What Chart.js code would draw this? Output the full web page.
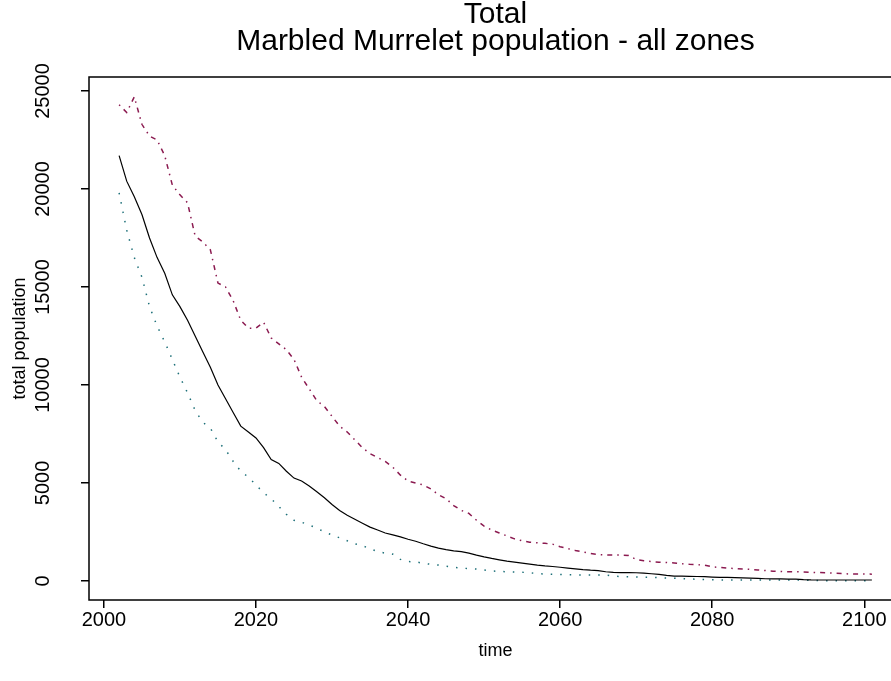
<!DOCTYPE html>
<html lang="en">
<head>
    <meta charset="UTF-8">
    <title>Marbled Murrelet population - all zones</title>
    <script src="https://cdn.jsdelivr.net/npm/chart.js"></script>
    <style>
        body {
            margin: 0;
            padding: 0;
            background-color: #ffffff;
            overflow: hidden;
        }

        #wrap {
            position: absolute;
            left: 0;
            top: 0;
            width: 912px;
            height: 681px;
        }
    </style>
</head>
<body>

    <div id="wrap">
        <canvas id="popChart" width="912" height="681"></canvas>
    </div>

    <script>
        // Years simulated
        const years = [
            2002, 2003, 2004, 2005, 2006, 2007, 2008, 2009, 2010, 2011,
            2012, 2013, 2014, 2015, 2016, 2017, 2018, 2019, 2020, 2021,
            2022, 2023, 2024, 2025, 2026, 2027, 2028, 2029, 2030, 2031,
            2032, 2033, 2034, 2035, 2036, 2037, 2038, 2039, 2040, 2041,
            2042, 2043, 2044, 2045, 2046, 2047, 2048, 2049, 2050, 2051,
            2052, 2053, 2054, 2055, 2056, 2057, 2058, 2059, 2060, 2061,
            2062, 2063, 2064, 2065, 2066, 2067, 2068, 2069, 2070, 2071,
            2072, 2073, 2074, 2075, 2076, 2077, 2078, 2079, 2080, 2081,
            2082, 2083, 2084, 2085, 2086, 2087, 2088, 2089, 2090, 2091,
            2092, 2093, 2094, 2095, 2096, 2097, 2098, 2099, 2100, 2101
        ];

        // Median total population (solid black)
        const medianPop = [
            21700, 20400, 19600, 18700, 17500, 16500, 15700, 14600, 14000, 13300,
            12500, 11700, 10900, 10000, 9300, 8600, 7900, 7600, 7300, 6800,
            6200, 6000, 5600, 5250, 5100, 4850, 4550, 4250, 3900, 3600,
            3350, 3150, 2950, 2750, 2600, 2450, 2350, 2250, 2130, 2030,
            1900, 1780, 1680, 1600, 1540, 1500, 1420, 1320, 1230, 1150,
            1080, 1010, 960, 910, 860, 810, 770, 740, 700, 660,
            620, 580, 550, 530, 470, 440, 430, 425, 420, 400,
            370, 340, 290, 250, 250, 240, 230, 220, 200, 185,
            180, 170, 160, 150, 130, 115, 110, 105, 100, 95,
            70, 55, 50, 50, 50, 50, 50, 50, 50, 50
        ];

        // Upper bound (dot-dash, purple)
        const upperPop = [
            24300, 23900, 24700, 23300, 22700, 22500, 21700, 20200, 19700, 19300,
            17600, 17300, 16900, 15200, 15000, 14300, 13300, 12900, 12900, 13200,
            12400, 12100, 11800, 11300, 10400, 9800, 9200, 8900, 8400, 7900,
            7600, 7200, 6800, 6500, 6300, 6100, 5800, 5400, 5100, 5000,
            4900, 4700, 4400, 4200, 3850, 3600, 3450, 3100, 2800, 2600,
            2450, 2300, 2150, 2050, 1980, 1950, 1920, 1880, 1750, 1650,
            1560, 1480, 1400, 1350, 1330, 1320, 1320, 1300, 1100, 1030,
            990, 960, 940, 920, 880, 850, 830, 810, 720, 690,
            660, 630, 610, 590, 560, 530, 500, 480, 475, 470,
            460, 440, 430, 420, 400, 380, 360, 355, 355, 350
        ];

        // Lower bound (dotted, teal)
        const lowerPop = [
            19800, 17900, 16500, 15500, 14000, 13000, 12200, 11300, 10400, 9600,
            8700, 8100, 7800, 7100, 6700, 6100, 5600, 5300, 4900, 4500,
            4200, 3800, 3400, 3100, 3000, 2850, 2700, 2500, 2350, 2200,
            2050, 1900, 1800, 1650, 1500, 1420, 1370, 1100, 990, 980,
            900, 850, 810, 750, 700, 660, 630, 610, 560, 510,
            490, 470, 455, 445, 420, 380, 350, 340, 330, 320,
            310, 305, 300, 300, 300, 250, 225, 220, 200, 190,
            185, 170, 150, 140, 120, 100, 90, 75, 60, 55,
            50, 50, 50, 50, 50, 50, 50, 50, 50, 50,
            45, 35, 25, 15, 15, 15, 15, 15, 15, 15
        ];

        // Tick labels
        const xTicks = [2000, 2020, 2040, 2060, 2080, 2100];
        const yTicks = [0, 5000, 10000, 15000, 20000, 25000];

        const titleLines = ['Total', 'Marbled Murrelet population - all zones'];
        const xTitle = 'time';
        const yTitle = 'total population';

        const FONT = '"Liberation Sans", Arial, sans-serif';

        function toPoints(values) {
            return years.map((yr, i) => ({ x: yr, y: values[i] }));
        }

        // Box, titles, y tick labels and axis titles in the R base-graphics style
        const rStylePlugin = {
            id: 'rStyle',
            afterDraw(chart) {
                const ctx = chart.ctx;
                const area = chart.chartArea;
                const yScale = chart.scales.y;
                const midX = (area.left + area.right) / 2;

                ctx.save();
                ctx.strokeStyle = '#000000';
                ctx.lineWidth = 1.5;
                ctx.strokeRect(area.left, area.top, area.right - area.left, area.bottom - area.top);

                ctx.fillStyle = '#000000';
                ctx.textAlign = 'center';
                ctx.textBaseline = 'middle';

                ctx.font = '30px ' + FONT;
                ctx.fillText(titleLines[0], midX, 15);
                ctx.fillText(titleLines[1], midX, 42);

                ctx.font = '18px ' + FONT;
                ctx.fillText(xTitle, midX, 651);

                ctx.save();
                ctx.translate(20, (area.top + area.bottom) / 2);
                ctx.rotate(-Math.PI / 2);
                ctx.fillText(yTitle, 0, 0);
                ctx.restore();

                ctx.font = '20px ' + FONT;
                yTicks.forEach(v => {
                    const py = yScale.getPixelForValue(v);
                    ctx.save();
                    ctx.translate(43, py);
                    ctx.rotate(-Math.PI / 2);
                    ctx.fillText(String(v), 0, 0);
                    ctx.restore();
                });
                ctx.restore();
            }
        };

        function initializeChart() {
            const ctx = document.getElementById('popChart').getContext('2d');
            new Chart(ctx, {
                type: 'line',
                data: {
                    datasets: [
                        {
                            label: 'upper',
                            data: toPoints(upperPop),
                            borderColor: '#8b1a50',
                            borderWidth: 1.5,
                            borderDash: [1.5, 5, 5, 5],
                            pointRadius: 0,
                            fill: false,
                            tension: 0
                        },
                        {
                            label: 'median',
                            data: toPoints(medianPop),
                            borderColor: '#000000',
                            borderWidth: 1.2,
                            pointRadius: 0,
                            fill: false,
                            tension: 0
                        },
                        {
                            label: 'lower',
                            data: toPoints(lowerPop),
                            borderColor: '#1c6f78',
                            borderWidth: 1.5,
                            borderDash: [1.5, 8],
                            pointRadius: 0,
                            fill: false,
                            tension: 0
                        }
                    ]
                },
                options: {
                    responsive: false,
                    animation: false,
                    layout: {
                        padding: { left: 0, top: 77, right: 10, bottom: 0 }
                    },
                    plugins: {
                        legend: { display: false },
                        title: { display: false },
                        tooltip: { enabled: false }
                    },
                    scales: {
                        x: {
                            type: 'linear',
                            min: 1998.04,
                            max: 2104.96,
                            afterBuildTicks: scale => {
                                scale.ticks = xTicks.map(v => ({ value: v }));
                            },
                            afterFit: scale => {
                                scale.height = 81;
                            },
                            grid: {
                                display: true,
                                drawOnChartArea: false,
                                drawTicks: true,
                                tickLength: 8,
                                color: '#000000',
                                lineWidth: 1.5
                            },
                            border: { display: false },
                            ticks: {
                                color: '#000000',
                                padding: 0,
                                maxRotation: 0,
                                font: { family: FONT, size: 20 },
                                callback: v => String(v)
                            }
                        },
                        y: {
                            type: 'linear',
                            min: -970,
                            max: 25714,
                            afterBuildTicks: scale => {
                                scale.ticks = yTicks.map(v => ({ value: v }));
                            },
                            afterFit: scale => {
                                scale.width = 89;
                            },
                            grid: {
                                display: true,
                                drawOnChartArea: false,
                                drawTicks: true,
                                tickLength: 8,
                                color: '#000000',
                                lineWidth: 1.5
                            },
                            border: { display: false },
                            ticks: { display: false }
                        }
                    }
                },
                plugins: [rStylePlugin]
            });
        }

        window.onload = () => {
            initializeChart();
        };
    </script>

</body>
</html>
